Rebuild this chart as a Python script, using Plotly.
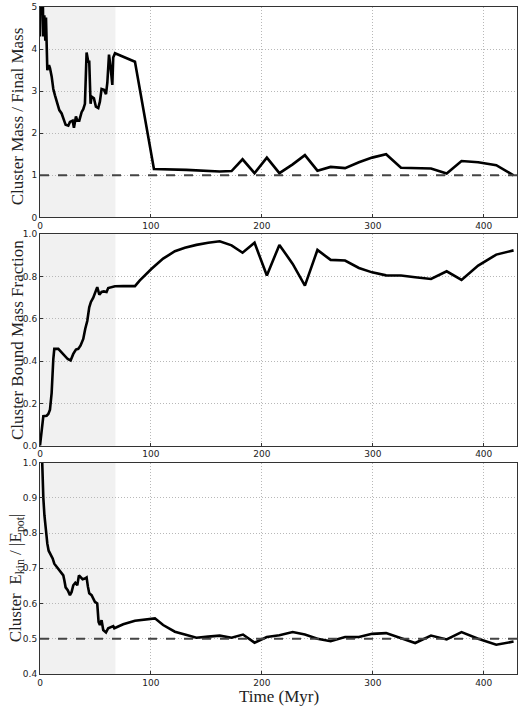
import plotly.graph_objects as go

# ---- data ----
t_mass = [0, 0.8, 2.5, 3.0, 3.9, 4.8, 5.4, 6.6, 8.1, 9, 10.5, 12, 13.5, 15, 17.4,
          19.5, 21, 23.1, 25.5, 27, 29.4, 30.6, 32.4, 33.6, 35.4, 37.5, 39, 40.5,
          42, 43.5, 44.4, 45.6, 46.5, 48.6, 50.4, 52.5, 54, 55.5, 57.7, 59.5, 60.7,
          62.2, 63.7, 65.2, 66, 67.6, 85.6, 102.7, 132, 162, 172.7, 182.6, 193.4,
          204.5, 215.8, 227.8, 238.8, 250.1, 262, 275, 287.5, 299.4, 312, 325.4,
          352.5, 366.6, 380, 395, 411.3, 426.9]
mass_ratio = [4.3, 5.4, 5.3, 4.3, 4.8, 4.2, 4.75, 3.5, 3.62, 3.55, 3.35, 3.05, 2.9,
              2.75, 2.55, 2.47, 2.35, 2.2, 2.18, 2.27, 2.3, 2.13, 2.4, 2.3, 2.3,
              2.5, 2.57, 2.7, 3.92, 3.7, 3.7, 2.7, 2.87, 2.83, 2.63, 2.6, 2.75,
              3.05, 3.03, 2.93, 3.2, 3.87, 3.55, 3.15, 3.8, 3.9, 3.7, 1.15, 1.13,
              1.09, 1.1, 1.38, 1.05, 1.42, 1.05, 1.26, 1.48, 1.11, 1.2, 1.17, 1.31,
              1.42, 1.5, 1.18, 1.16, 1.04, 1.34, 1.31, 1.24, 1.0]

t_bound = [0, 2.4, 3, 6, 7.5, 9, 10.5, 12, 12.9, 16.5, 19.5, 22.5, 25, 27.6, 30,
           32.4, 34.5, 36.6, 39, 40.8, 42.6, 44.4, 45.9, 48, 50.1, 51.6, 53.5, 55.5,
           57.6, 60, 61.5, 64.5, 67.6, 75, 85.6, 90, 100.6, 111, 121.6, 130.6, 141,
           151.6, 162, 172.7, 182.6, 193.4, 204.5, 215.8, 227.8, 238.8, 250.1, 262,
           275, 287.5, 299.4, 312, 325.4, 338.2, 352.5, 366.6, 380, 395, 411.3, 426.9]
bound_frac = [0, 0.134, 0.14, 0.142, 0.15, 0.17, 0.25, 0.41, 0.458, 0.458, 0.44,
              0.42, 0.41, 0.403, 0.434, 0.455, 0.458, 0.474, 0.505, 0.553, 0.59,
              0.655, 0.68, 0.7, 0.728, 0.75, 0.714, 0.727, 0.73, 0.727, 0.746, 0.75,
              0.754, 0.755, 0.755, 0.782, 0.837, 0.885, 0.92, 0.936, 0.95, 0.96,
              0.967, 0.948, 0.913, 0.96, 0.805, 0.95, 0.86, 0.757, 0.926, 0.879,
              0.876, 0.841, 0.82, 0.806, 0.805, 0.797, 0.789, 0.825, 0.784, 0.852,
              0.904, 0.924]

t_vir = [1.0, 2.2, 3.0, 4.0, 5.4, 6.6, 7.8, 9.5, 11.4, 12.9, 15, 16.5, 18, 19.5, 21,
         21.9, 23.1, 25, 27, 28.5, 30, 31.8, 33.6, 35.1, 36.6, 38.4, 40.5, 42, 43.2,
         44.4, 46.5, 48, 49.5, 51.6, 52.8, 54, 55.5, 57, 59.5, 61.5, 64, 66, 67, 75,
         85.6, 96, 103.6, 111, 121.6, 130.6, 141, 151.6, 162, 172.7, 183, 193.4,
         204.5, 215.8, 227.8, 238.8, 250.1, 262, 275, 287.5, 299.4, 312, 325.4,
         338.2, 352.5, 366.6, 380, 395, 411.3, 426.9]
vir_ratio = [1.1, 0.95, 0.9, 0.85, 0.8, 0.77, 0.75, 0.74, 0.728, 0.713, 0.704, 0.7,
             0.69, 0.685, 0.68, 0.667, 0.646, 0.638, 0.624, 0.633, 0.652, 0.659,
             0.652, 0.68, 0.676, 0.669, 0.671, 0.674, 0.648, 0.629, 0.624, 0.615,
             0.605, 0.6, 0.548, 0.539, 0.553, 0.525, 0.518, 0.53, 0.534, 0.536, 0.53,
             0.541, 0.551, 0.556, 0.558, 0.539, 0.52, 0.512, 0.503, 0.506, 0.509,
             0.503, 0.512, 0.489, 0.505, 0.51, 0.519, 0.512, 0.5, 0.493, 0.505,
             0.505, 0.514, 0.516, 0.502, 0.488, 0.509, 0.498, 0.519, 0.5, 0.483,
             0.492]

x_ticks = [0, 100, 200, 300, 400]
shade_end = 68
ref_mass = 1.0
ref_vir = 0.5
y_titles = ["Cluster Mass / Final Mass", "Cluster Bound Mass Fraction",
            "Cluster  E<sub>kin</sub> / |E<sub>pot</sub>|"]

# ---- figure ----
fig = go.Figure()
serif = "Liberation Serif"
sans = "DejaVu Sans"

W, H = 520, 707
ml, mr, mt, mb = 40, 2, 5, 33
ph = H - mt - mb
def dom(top_px, bot_px):
    return [(H - mb - bot_px) / ph, (H - mb - top_px) / ph]

domains = [dom(5, 216), dom(233, 445), dom(462, 674)]
title_shift_px = [4, 0, 10]
yranges = [[0, 5], [0, 1.0], [0.4, 1.0]]
ydticks = [1, 0.2, 0.1]
yformats = ["d", ".1f", ".1f"]
series = [(t_mass, mass_ratio), (t_bound, bound_frac), (t_vir, vir_ratio)]

for i, (tx, yy) in enumerate(series):
    n = "" if i == 0 else str(i + 1)
    fig.add_trace(go.Scatter(x=tx, y=yy, mode="lines", xaxis="x" + n, yaxis="y" + n,
                             line=dict(color="black", width=2.6), showlegend=False,
                             hoverinfo="skip"))
    axis_common = dict(showline=True, linecolor="#333", linewidth=1, mirror=True,
                       showgrid=True, gridcolor="#b8b8b8", griddash="1px,2px", gridwidth=1,
                       zeroline=False, ticks="inside", ticklen=3, tickcolor="#333",
                       tickfont=dict(family=sans, size=9, color="#222"))
    fig.layout["xaxis" + n] = dict(axis_common, domain=[0, 1], range=[0, 430],
                                   tickvals=x_ticks, anchor="y" + n)
    fig.layout["yaxis" + n] = dict(axis_common, domain=domains[i], range=yranges[i],
                                   dtick=ydticks[i], tick0=0, tickformat=yformats[i],
                                   anchor="x" + n)
    fig.add_shape(type="rect", xref="x" + n, yref="y" + n + " domain",
                  x0=0, x1=shade_end, y0=0, y1=1, fillcolor="#f1f1f1",
                  line=dict(width=0), layer="below")
    fig.add_annotation(text=y_titles[i], xref="paper", yref="paper",
                       x=(17 - ml) / (W - ml - mr),
                       y=sum(domains[i]) / 2 - title_shift_px[i] / ph,
                       xanchor="center", yanchor="middle", textangle=-90,
                       showarrow=False, font=dict(family=serif, size=17, color="#222"))

fig.add_shape(type="line", xref="x domain", yref="y", x0=0, x1=1, y0=ref_mass, y1=ref_mass,
              line=dict(color="#444", width=2, dash="dash"))
fig.add_shape(type="line", xref="x3 domain", yref="y3", x0=0, x1=1, y0=ref_vir, y1=ref_vir,
              line=dict(color="#444", width=2, dash="dash"))

fig.add_annotation(text="Time (Myr)", xref="paper", yref="paper", x=0.5,
                   y=-(697 - (H - mb)) / ph, xanchor="center", yanchor="middle",
                   showarrow=False, font=dict(family=serif, size=17, color="#222"))

fig.update_layout(width=W, height=H, margin=dict(l=ml, r=mr, t=mt, b=mb),
                  plot_bgcolor="white", paper_bgcolor="white")

fig.write_html("out.html", config={"displayModeBar": False})

# remove the default page margin so the figure sits at the window origin
with open("out.html", "r", encoding="utf-8") as f:
    html = f.read()
html = html.replace("<head>", "<head><style>html,body{margin:0;padding:0;overflow:hidden;}</style>", 1)
with open("out.html", "w", encoding="utf-8") as f:
    f.write(html)
